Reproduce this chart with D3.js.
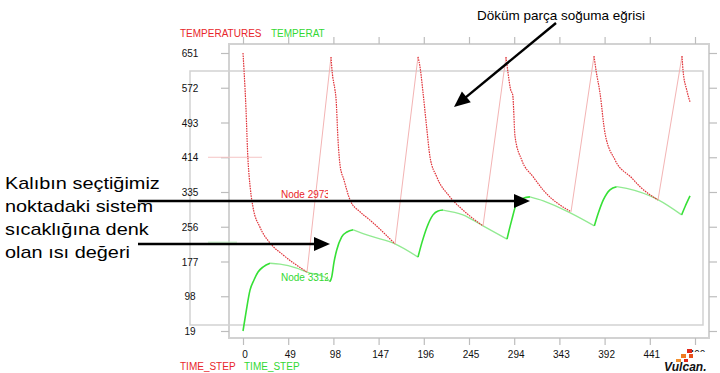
<!DOCTYPE html>
<html><head><meta charset="utf-8">
<script src="https://cdnjs.cloudflare.com/ajax/libs/d3/7.8.5/d3.min.js"></script>
<style>
html,body{margin:0;padding:0;background:#fff;}
svg{display:block;font-family:"Liberation Sans",Arial,sans-serif;}
</style></head>
<body><svg id="c" width="720" height="373"></svg>
<script>
// ---- data ----
const xTicks = [0,49,98,147,196,245,294,343,392,441,490];
const yTicks = [19,98,177,256,335,414,493,572,651];

const redTime = [0,1.1,3.3,4.9,8.1,10.8,18.4,29.3,43.4,69.4,
  95.4,96.5,99.7,100.8,103,105.2,109.5,116,126.8,137.7,164.8,
  189.7,191.9,195.1,199.4,202.7,209.9,224.3,238.4,260.2,
  285.1,287.3,290.2,292.4,294.9,302.1,314.4,325.2,355.6,
  380.5,382.7,387,392.4,403.3,421.4,430.4,449.9,
  475.9,477,481,484.6];
const redTemp = [651,612,521,430,340,301,255,219,192,153,
  642,612,567,549,453,396,362,317,290,271,217,
  642,619,562,476,415,370,324,294,258,
  642,606,567,556,461,408,370,340,290,
  644,612,560,469,408,367,347,317,
  644,612,567,540];

const greenTime = [0,3.3,7.6,11.9,16.3,22,29.3,40.1,58.2,69.4,90.7,94.3,
  96.2,98.7,101.6,107,112.7,119.6,137.7,164.8,189.7,
  194.1,199.4,206,211.5,216.8,238.4,260.2,286.2,
  291.3,296.7,303.9,311.1,325.6,355.3,380.9,
  385.2,390.6,397.8,405.1,415.9,450.2,475.5,
  479.3,484.6];
const greenTemp = [19,62,112,135,153,165,173,171,162,153,139,131,
  142,176,203,233,244,249,235,217,187,
  221,255,283,292,294,283,258,228,
  271,309,321,324,315,287,258,
  287,317,340,347,343,317,283,
  302,326];

const svg = d3.select("#c");
const x = d3.scaleLinear().domain([0,490]).range([243,695]);
const y = d3.scaleLinear().domain([19,651]).range([331,53]);

// frames
const frameCol = "#d2d2d2";
svg.append("rect").attr("x",190).attr("y",71).attr("width",513).attr("height",254)
  .attr("fill","none").attr("stroke",frameCol).attr("stroke-width",1.5);
svg.append("rect").attr("x",229).attr("y",44).attr("width",480).attr("height",294)
  .attr("fill","none").attr("stroke",frameCol).attr("stroke-width",2);

// axes
function styleAxis(g){
  g.select(".domain").remove();
  g.selectAll(".tick line").attr("stroke","#bdbdbd").attr("stroke-width",1.2);
  g.selectAll("text").attr("fill","#111").style("font-size","10px")
    .style("font-family","'Liberation Sans',Arial,sans-serif");
}
svg.append("g").attr("transform","translate(229,0)")
  .call(d3.axisLeft(y).tickValues(yTicks).tickSize(8).tickPadding(0).tickFormat(d3.format("d")))
  .call(styleAxis)
  .call(g=>g.selectAll("text").attr("text-anchor","middle").attr("x",-39).attr("dy","0.36em"));
svg.append("g").attr("transform","translate(709,0)")
  .call(d3.axisRight(y).tickValues(yTicks).tickSize(8).tickFormat(""))
  .call(styleAxis);
svg.append("g").attr("transform","translate(0,44)")
  .call(d3.axisTop(x).tickValues(xTicks).tickSize(7).tickFormat(""))
  .call(styleAxis);
svg.append("g").attr("transform","translate(0,338)")
  .call(d3.axisBottom(x).tickValues(xTicks).tickSize(7).tickPadding(6).tickFormat(d3.format("d")))
  .call(styleAxis)
  .call(g=>g.selectAll("text").attr("dx",1.5));

// small marker lines
svg.append("line").attr("x1",208).attr("x2",262).attr("y1",y(414)).attr("y2",y(414))
  .attr("stroke","#f5c4c4").attr("stroke-width",1);
svg.append("line").attr("x1",208).attr("x2",237).attr("y1",y(221)).attr("y2",y(221))
  .attr("stroke","#bff2bf").attr("stroke-width",1);

// split a series into rising / falling runs
function runs(times, temps){
  const out = [];
  let run = [[times[0],temps[0]]], dir = null;
  for(let i=1;i<times.length;i++){
    const up = temps[i] > temps[i-1];
    if(dir!==null && up!==dir){ out.push({up:dir, pts:run}); run=[[times[i-1],temps[i-1]]]; }
    dir = up;
    run.push([times[i],temps[i]]);
  }
  out.push({up:dir, pts:run});
  return out;
}
const curved = d3.line().x(d=>x(d[0])).y(d=>y(d[1])).curve(d3.curveMonotoneX);
const straight = d3.line().x(d=>x(d[0])).y(d=>y(d[1]));

// green: rises bright, declines lighter
svg.append("g").selectAll("path").data(runs(greenTime, greenTemp)).join("path")
  .attr("d", r=>curved(r.pts)).attr("fill","none")
  .attr("stroke", r=>r.up ? "#36e036" : "#92ea92")
  .attr("stroke-width", r=>r.up ? 1.6 : 1.3);
// red: cooling runs dotted red, reset jumps thin pink
svg.append("g").selectAll("path").data(runs(redTime, redTemp)).join("path")
  .attr("d", r=>r.up ? straight(r.pts) : curved(r.pts)).attr("fill","none")
  .attr("stroke", r=>r.up ? "#f3b4b4" : "#e0343a")
  .attr("stroke-width", r=>r.up ? 1 : 1.2)
  .attr("stroke-dasharray", r=>r.up ? null : "1.6,0.9");

// node labels (clipped)
svg.append("clipPath").attr("id","nclip").append("rect")
  .attr("x",270).attr("y",180).attr("width",58).attr("height",110);
svg.append("text").attr("x",281).attr("y",198).attr("fill","#e8262b")
  .attr("clip-path","url(#nclip)").style("font-size","10px").text("Node 2973");
svg.append("text").attr("x",281).attr("y",281).attr("fill","#33d833")
  .attr("clip-path","url(#nclip)").style("font-size","10px").text("Node 3312");

// axis titles
svg.append("text").attr("x",180).attr("y",37).attr("fill","#e8262b").style("font-size","10px").text("TEMPERATURES");
svg.append("text").attr("x",271).attr("y",37).attr("fill","#33d833").style("font-size","10px").text("TEMPERAT");
svg.append("text").attr("x",180).attr("y",370).attr("fill","#e8262b").style("font-size","10px").text("TIME_STEP");
svg.append("text").attr("x",244).attr("y",370).attr("fill","#33d833").style("font-size","10px").text("TIME_STEP");

// annotations
svg.append("text").attr("x",477).attr("y",20).attr("fill","#000").style("font-size","13.5px")
  .text("Döküm parça soğuma eğrisi");
const leftLines = ["Kalıbın seçtiğimiz","noktadaki sistem","sıcaklığına denk","olan ısı değeri"];
svg.append("g").attr("transform","translate(5,0) scale(1.17,1)")
  .selectAll("text").data(leftLines).join("text")
  .attr("x",0).attr("y",(d,i)=>189+i*23).attr("fill","#000").style("font-size","17px").text(d=>d);

function arrow(x1,y1,x2,y2){
  const dx=x2-x1, dy=y2-y1, L=Math.hypot(dx,dy), ux=dx/L, uy=dy/L;
  const hl=16, hw=7;
  const bx=x2-ux*hl, by=y2-uy*hl;
  svg.append("line").attr("x1",x1).attr("y1",y1).attr("x2",bx+ux*2).attr("y2",by+uy*2)
    .attr("stroke","#000").attr("stroke-width",2.4);
  svg.append("polygon").attr("points",
    [[x2,y2],[bx-uy*hw,by+ux*hw],[bx+uy*hw,by-ux*hw]].map(p=>p.join(",")).join(" "))
    .attr("fill","#000");
}
arrow(138,201,530,201);
arrow(138,244,330,244);
arrow(556,23,454,107);

// Vulcan logo
svg.append("rect").attr("x",672).attr("y",352).attr("width",48).attr("height",21).attr("fill","#fff");
[[687,349,5,4,"#e02a1a"],[681,354,5,4,"#f07a20"],[689,354,4,4,"#e8501c"],[676,359,5,3,"#f29030"],[684,359,4,3,"#e02a1a"]]
  .forEach(s=>svg.append("rect").attr("x",s[0]).attr("y",s[1]).attr("width",s[2]).attr("height",s[3]).attr("fill",s[4]));
svg.append("text").attr("x",664).attr("y",371).attr("fill","#111")
  .style("font-size","12px").style("font-weight","bold").style("font-style","italic").text("Vulcan.");
</script></body></html>
